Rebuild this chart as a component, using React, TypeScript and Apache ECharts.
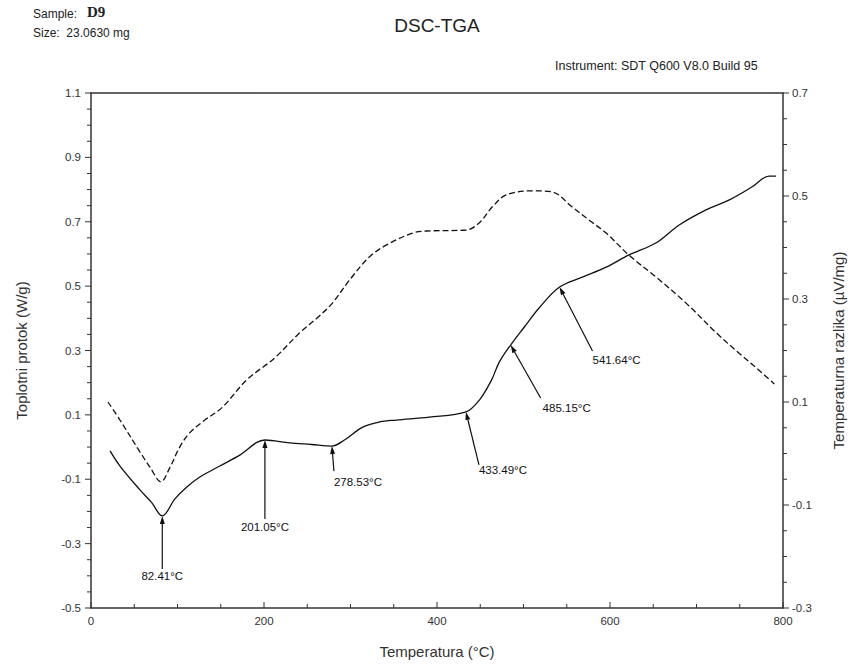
import React, { useEffect, useRef } from "react";
import * as echarts from "echarts";

// Heat flow (W/g) — solid line, left axis
const solidTemp = [22, 33.5, 56.6, 70, 82.41, 97, 110.8, 125.8, 148.9, 172, 201.05, 229.7, 255, 278.53, 293, 314, 333.6, 353, 391, 433.49, 449, 463, 472, 485.15, 501, 518, 541.64, 568, 595.6, 622, 653, 680, 711, 738, 764, 784, 792];
const heatFlow = [-0.012, -0.059, -0.133, -0.172, -0.214, -0.161, -0.124, -0.093, -0.059, -0.025, 0.022, 0.013, 0.008, 0.003, 0.022, 0.062, 0.078, 0.084, 0.093, 0.109, 0.146, 0.208, 0.264, 0.317, 0.373, 0.432, 0.497, 0.528, 0.559, 0.597, 0.634, 0.69, 0.737, 0.768, 0.808, 0.842, 0.842];

// Temperature difference (µV/mg) — dashed line, right axis
const dashedTemp = [19.6, 33.5, 56.6, 68, 80.8, 91, 102.7, 114, 131.6, 152, 180, 212, 241, 264, 279, 299, 322, 341.7, 371.7, 388, 434, 449, 464, 480, 510, 533, 556, 576, 595.6, 622, 653, 688, 723, 749, 772, 790];
const tempDiff = [0.1, 0.065, 0.003, -0.026, -0.055, -0.028, 0.013, 0.04, 0.065, 0.09, 0.143, 0.185, 0.234, 0.267, 0.292, 0.337, 0.382, 0.405, 0.428, 0.432, 0.434, 0.448, 0.479, 0.502, 0.51, 0.508, 0.479, 0.453, 0.428, 0.385, 0.343, 0.292, 0.234, 0.195, 0.162, 0.135];

// Annotated points on the heat-flow curve
const annTemps = [82.41, 201.05, 278.53, 433.49, 485.15, 541.64];
const annValues = [-0.214, 0.022, 0.003, 0.109, 0.317, 0.497];
// arrow tail offset from the point, and label centre offset from the point (pixels)
const annTail = [[0, 53], [0, 79], [2, 25], [13, 53], [30, 53], [33, 64]];
const annLabel = [[0, 60], [0, 87], [26, 36], [37, 58], [56, 63], [57, 73]];

// Axis ranges and tick steps
const xRange = [0, 800, 200, 50];
const yLeftRange = [-0.5, 1.1, 0.2, 0.05];
const yRightRange = [-0.3, 0.7, 0.2, 0.05];

const FONT = "'Liberation Sans', Arial, sans-serif";

export default function App() {
  const ref = useRef<HTMLDivElement>(null);
  useEffect(() => {
    if (!ref.current) return;
    const chart = echarts.init(ref.current, null, { renderer: "svg" });
    const axisColor = "#333";
    const labelStyle = { color: "#333", fontSize: 11.5, fontFamily: FONT };
    chart.setOption({
      animation: false,
      backgroundColor: "#fff",
      grid: { left: 91, right: 70, top: 93, bottom: 58, show: false },
      xAxis: [
        {
          type: "value",
          position: "bottom",
          min: xRange[0],
          max: xRange[1],
          interval: xRange[2],
          name: "Temperatura (°C)",
          nameLocation: "middle",
          nameGap: 36,
          nameTextStyle: { color: "#333", fontSize: 15, fontFamily: FONT },
          axisLine: { show: true, onZero: false, lineStyle: { color: axisColor, width: 1.5 } },
          axisTick: { show: false },
          axisLabel: { ...labelStyle, margin: 7 },
          splitLine: { show: false },
        },
        {
          type: "value",
          position: "top",
          min: xRange[0],
          max: xRange[1],
          interval: xRange[2],
          axisLine: { show: true, onZero: false, lineStyle: { color: axisColor, width: 1.5 } },
          axisTick: { show: false },
          axisLabel: { show: false },
          splitLine: { show: false },
        },
      ],
      yAxis: [
        {
          type: "value",
          position: "left",
          min: yLeftRange[0],
          max: yLeftRange[1],
          interval: yLeftRange[2],
          name: "Toplotni protok (W/g)",
          nameLocation: "middle",
          nameGap: 62,
          nameTextStyle: { color: "#333", fontSize: 15, fontFamily: FONT },
          axisLine: { show: true, onZero: false, lineStyle: { color: axisColor, width: 1.5 } },
          axisTick: { show: false },
          axisLabel: { ...labelStyle, margin: 10, formatter: (v: number) => v.toFixed(1) },
          splitLine: { show: false },
        },
        {
          type: "value",
          position: "right",
          min: yRightRange[0],
          max: yRightRange[1],
          interval: yRightRange[2],
          name: "Temperaturna razlika (µV/mg)",
          nameLocation: "middle",
          nameGap: 48,
          nameRotate: 90,
          nameTextStyle: { color: "#333", fontSize: 15, fontFamily: FONT },
          axisLine: { show: true, onZero: false, lineStyle: { color: axisColor, width: 1.5 } },
          axisTick: { show: false },
          axisLabel: { ...labelStyle, margin: 9, formatter: (v: number) => v.toFixed(1) },
          splitLine: { show: false },
        },
      ],
      series: [
        {
          type: "line",
          xAxisIndex: 0,
          yAxisIndex: 0,
          data: solidTemp.map((t, i) => [t, heatFlow[i]]),
          showSymbol: false,
          smooth: 0.35,
          lineStyle: { color: "#111", width: 1.3 },
        },
        {
          type: "line",
          xAxisIndex: 0,
          yAxisIndex: 1,
          data: dashedTemp.map((t, i) => [t, tempDiff[i]]),
          showSymbol: false,
          smooth: 0.35,
          lineStyle: { color: "#111", width: 1.3, type: [6, 3] },
        },
      ],
    });

    const elements: any[] = [
      { type: "text", x: 437, y: 25, style: { text: "DSC-TGA", font: `19px ${FONT}`, fill: "#222", textAlign: "center", textVerticalAlign: "middle" } },
      { type: "text", x: 33, y: 14, style: { text: "Sample:", font: `12px ${FONT}`, fill: "#222", textAlign: "left", textVerticalAlign: "middle" } },
      { type: "text", x: 87, y: 12, style: { text: "D9", font: `bold 15px 'Liberation Serif', serif`, fill: "#222", textAlign: "left", textVerticalAlign: "middle" } },
      { type: "text", x: 33, y: 33, style: { text: "Size:  23.0630 mg", font: `12px ${FONT}`, fill: "#222", textAlign: "left", textVerticalAlign: "middle" } },
      { type: "text", x: 555, y: 66, style: { text: "Instrument: SDT Q600 V8.0 Build 95", font: `12.5px ${FONT}`, fill: "#222", textAlign: "left", textVerticalAlign: "middle" } },
    ];

    // Tick marks, placed through the axes' own scales
    const tickStyle = { stroke: "#333", lineWidth: 1 };
    const xs = chart.convertToPixel({ xAxisIndex: 0 } as any, xRange[0]) as unknown as number;
    const xe = chart.convertToPixel({ xAxisIndex: 0 } as any, xRange[1]) as unknown as number;
    const yb = chart.convertToPixel({ yAxisIndex: 0 } as any, yLeftRange[0]) as unknown as number;
    const nX = Math.round((xRange[1] - xRange[0]) / xRange[3]);
    for (let k = 0; k <= nX; k++) {
      const v = xRange[0] + k * xRange[3];
      const px = chart.convertToPixel({ xAxisIndex: 0 } as any, v) as unknown as number;
      const major = k % Math.round(xRange[2] / xRange[3]) === 0;
      const L = major ? 6 : 4;
      elements.push({ type: "line", shape: { x1: px, y1: yb, x2: px, y2: yb - L }, style: tickStyle });
    }
    const addY = (range: number[], axisIndex: number, xPix: number, dir: number) => {
      const n = Math.round((range[1] - range[0]) / range[3]);
      const every = Math.round(range[2] / range[3]);
      for (let k = 0; k <= n; k++) {
        const v = range[0] + k * range[3];
        const py = chart.convertToPixel({ yAxisIndex: axisIndex } as any, v) as unknown as number;
        const major = k % every === 0;
        const L = major ? 6 : 4;
        elements.push({ type: "line", shape: { x1: xPix, y1: py, x2: xPix + dir * L, y2: py }, style: tickStyle });
      }
    };
    addY(yLeftRange, 0, xs, -1);
    addY(yRightRange, 1, xe, 1);

    annTemps.forEach((t, i) => {
      const p = chart.convertToPixel({ xAxisIndex: 0, yAxisIndex: 0 } as any, [t, annValues[i]]) as number[];
      const tail = [p[0] + annTail[i][0], p[1] + annTail[i][1]];
      const dx = p[0] - tail[0];
      const dy = p[1] - tail[1];
      const len = Math.hypot(dx, dy);
      const ux = dx / len, uy = dy / len;
      const bx = p[0] - ux * 8, by = p[1] - uy * 8;
      const w = 2.5;
      elements.push({
        type: "line",
        shape: { x1: tail[0], y1: tail[1], x2: bx, y2: by },
        style: { stroke: "#111", lineWidth: 1.2 },
      });
      elements.push({
        type: "polygon",
        shape: { points: [[p[0], p[1]], [bx - uy * w, by + ux * w], [bx + uy * w, by - ux * w]] },
        style: { fill: "#111" },
      });
      elements.push({
        type: "text",
        x: p[0] + annLabel[i][0],
        y: p[1] + annLabel[i][1],
        style: { text: `${t.toFixed(2)}°C`, font: `11.5px ${FONT}`, fill: "#111", textAlign: "center", textVerticalAlign: "middle" },
      });
    });

    chart.setOption({ graphic: { elements } });
    return () => chart.dispose();
  }, []);
  return <div ref={ref} style={{ position: "fixed", left: 0, top: 0, width: 854, height: 666 }} />;
}
